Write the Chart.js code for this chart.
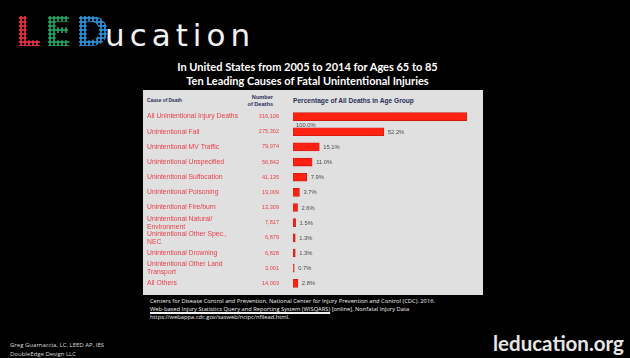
<!DOCTYPE html>
<html>
<head>
<meta charset="utf-8">
<script src="https://cdn.jsdelivr.net/npm/chart.js@4.4.1/dist/chart.umd.min.js"></script>
<style>
  html, body { margin: 0; padding: 0; background: #000; }
  #page { position: relative; width: 630px; height: 358px; background: #000; overflow: hidden; font-family: "Open Sans", sans-serif; }
  .abs { position: absolute; white-space: nowrap; }
  #led { left: 15px; top: 8px; font: bold 41px "DejaVu Sans", sans-serif; letter-spacing: 3px; line-height: 48px; }
  #led span {
    color: transparent;
    -webkit-background-clip: text; background-clip: text;
    background-size: 4px 4px;
  }
  .r { background-image: radial-gradient(circle, #e0303a 55%, transparent 62%); }
  .g { background-image: radial-gradient(circle, #1fa060 55%, transparent 62%); }
  .b { background-image: radial-gradient(circle, #2a8fd6 55%, transparent 62%); }
  #ucation { left: 105px; top: 15px; font: 31px "DejaVu Sans", sans-serif; color: #f2f2f2; letter-spacing: 5px; line-height: 40px; }
  #title { left: 0; width: 615px; top: 60px; text-align: center; color: #fff; font: bold 11px Lato, sans-serif; line-height: 14px; }
  #panel { left: 143px; top: 90px; width: 340px; height: 205px; background: #e0e0e0; }
  .hdr { position: absolute; color: #2a2f5a; font: bold 5.6px "Liberation Sans", Arial, sans-serif; line-height: 6.5px; white-space: nowrap; }
  #chartBox { position: absolute; left: 0; top: 0; width: 340px; height: 205px; }
  #source { left: 150px; top: 297px; color: #f0f0f0; font: 5.75px "Open Sans", sans-serif; line-height: 8.2px; }
  #source u { text-decoration-thickness: 1.5px; }
  #author { left: 10px; top: 341px; color: #ddd; font: 6px "Open Sans", sans-serif; line-height: 8.5px; }
  #site { left: 493px; top: 331px; color: #e6e6e6; font: bold 20.5px Lato, sans-serif; }
</style>
</head>
<body>
<div id="page">
  <div id="led" class="abs"><span class="r">L</span><span class="g">E</span><span class="b">D</span></div>
  <div id="ucation" class="abs">ucation</div>
  <div id="title" class="abs">In United States from 2005 to 2014 for Ages 65 to 85<br>Ten Leading Causes of Fatal Unintentional Injuries</div>

  <div id="panel" class="abs">
    <div class="hdr" style="left:4px; top:8px; font-size:4.8px;">Cause of Death</div>
    <div class="hdr" style="right:210px; top:4px; text-align:right;">Number<br>of Deaths</div>
    <div class="hdr" style="left:150px; top:8px; font-size:6.6px;">Percentage of All Deaths in Age Group</div>
    <div id="chartBox"><canvas id="injuryChart"></canvas></div>
  </div>

  <div id="source" class="abs">Centers for Disease Control and Prevention, National Center for Injury Prevention and Control (CDC). 2016.<br><u>Web-based Injury Statistics Query and Reporting System (WISQARS)</u> [online]. Nonfatal Injury Data<br>https://webappa.cdc.gov/sasweb/ncipc/nfilead.html.</div>
  <div id="author" class="abs">Greg Guarnaccia, LC, LEED AP, IES<br>DoubleEdge Design LLC</div>
  <div id="site" class="abs">leducation.org</div>
</div>

<script>
// --- DATA ---
const causes = [
    'All Unintentional Injury Deaths',
    'Unintentional Fall',
    'Unintentional MV Traffic',
    'Unintentional Unspecified',
    'Unintentional Suffocation',
    'Unintentional Poisoning',
    'Unintentional Fire/burn',
    ['Unintentional Natural/', 'Environment'],
    ['Unintentional Other Spec.,', 'NEC'],
    'Unintentional Drowning',
    ['Unintentional Other Land', 'Transport'],
    'All Others'
];
const deaths = [316106, 275302, 79074, 56842, 41135, 19009, 13309, 7817, 6879, 6828, 3001, 14003];
const percents = [100.0, 52.2, 15.1, 11.0, 7.9, 3.7, 2.6, 1.5, 1.3, 1.3, 0.7, 2.8];

const labelRed = '#e8404a';

// numbers column + percentage labels next to bars
const sideLabels = {
    id: 'sideLabels',
    afterDatasetsDraw(chart) {
        const ctx = chart.ctx;
        const meta = chart.getDatasetMeta(0);
        ctx.save();
        ctx.textBaseline = 'middle';
        meta.data.forEach((bar, i) => {
            // deaths, right aligned column
            ctx.font = '5.6px "Liberation Sans", Arial, sans-serif';
            ctx.fillStyle = labelRed;
            ctx.textAlign = 'right';
            ctx.fillText(deaths[i].toLocaleString('en-US'), 136, bar.y);

            // percentage
            ctx.font = '5.8px "Liberation Sans", Arial, sans-serif';
            ctx.fillStyle = '#4a4a4a';
            ctx.textAlign = 'left';
            const txt = percents[i].toFixed(1) + '%';
            if (i === 0) ctx.fillText(txt, chart.chartArea.left + 3, bar.y + 8.5);
            else ctx.fillText(txt, bar.x + 4, bar.y + 0.5);
        });
        ctx.restore();
    }
};

function drawChart() {
    const ctx = document.getElementById('injuryChart').getContext('2d');
    return new Chart(ctx, {
        type: 'bar',
        data: {
            labels: causes,
            datasets: [{
                data: percents,
                backgroundColor: '#ff2212',
                borderColor: '#cc1a10',
                borderWidth: 0.8,
                borderSkipped: false,
                barThickness: 8
            }]
        },
        options: {
            indexAxis: 'y',
            responsive: true,
            maintainAspectRatio: false,
            animation: false,
            layout: { padding: { top: 19, bottom: 4, left: 4, right: 16 } },
            plugins: { legend: { display: false }, tooltip: { enabled: false } },
            scales: {
                x: { min: 0, max: 100, display: false },
                y: {
                    grid: { display: false },
                    border: { display: false },
                    afterFit: s => { s.width = 146; },
                    ticks: {
                        autoSkip: false,
                        crossAlign: 'far',
                        padding: 0,
                        color: labelRed,
                        font: { family: '"Liberation Sans", Arial, sans-serif', size: 6.8, lineHeight: 1.2 }
                    }
                }
            }
        },
        plugins: [sideLabels]
    });
}

drawChart();
</script>
</body>
</html>
